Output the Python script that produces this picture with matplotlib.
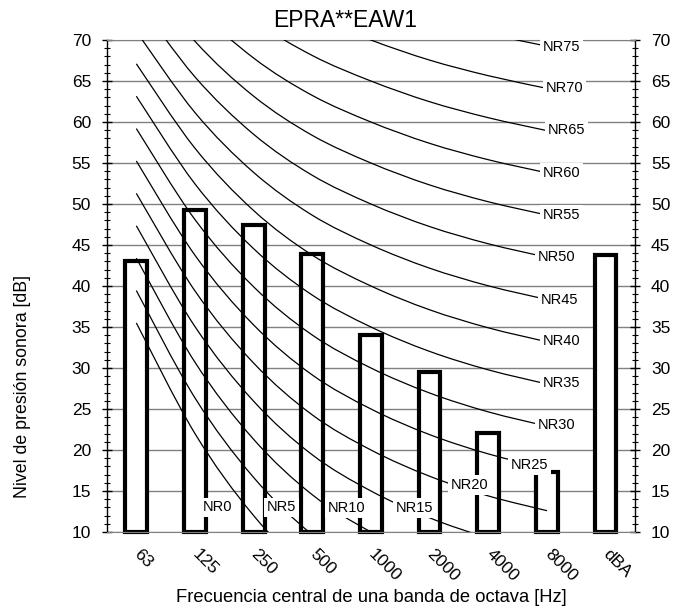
import numpy as np
import matplotlib
matplotlib.use("Agg")
import matplotlib.pyplot as plt
from matplotlib.path import Path
from matplotlib.patches import PathPatch

plt.rcParams['font.family'] = ['Liberation Sans', 'DejaVu Sans']

# octave bands + overall dBA
categories = ['63', '125', '250', '500', '1000', '2000', '4000', '8000', 'dBA']
levels = [43.0, 49.3, 47.4, 43.9, 34.0, 29.5, 22.1, 17.3, 43.8]

# NR curves, values at 63 ... 8000 Hz
nr_names = ['NR0', 'NR5', 'NR10', 'NR15', 'NR20', 'NR25', 'NR30', 'NR35',
            'NR40', 'NR45', 'NR50', 'NR55', 'NR60', 'NR65', 'NR70', 'NR75']
nr_values = [
    [35.5, 22.0, 12.0, 4.8, 0.0, -3.5, -6.1, -8.0],
    [39.45, 26.35, 16.65, 9.67, 5.0, 1.575, -0.975, -2.85],
    [43.4, 30.7, 21.3, 14.54, 10.0, 6.65, 4.15, 2.3],
    [47.35, 35.05, 25.95, 19.41, 15.0, 11.725, 9.275, 7.45],
    [51.3, 39.4, 30.6, 24.28, 20.0, 16.8, 14.4, 12.6],
    [55.25, 43.75, 35.25, 29.15, 25.0, 21.875, 19.525, 17.75],
    [59.2, 48.1, 39.9, 34.02, 30.0, 26.95, 24.65, 22.9],
    [63.15, 52.45, 44.55, 38.89, 35.0, 32.025, 29.775, 28.05],
    [67.1, 56.8, 49.2, 43.76, 40.0, 37.1, 34.9, 33.2],
    [71.05, 61.15, 53.85, 48.63, 45.0, 42.175, 40.025, 38.35],
    [75.0, 65.5, 58.5, 53.5, 50.0, 47.25, 45.15, 43.5],
    [78.95, 69.85, 63.15, 58.37, 55.0, 52.325, 50.275, 48.65],
    [82.9, 74.2, 67.8, 63.24, 60.0, 57.4, 55.4, 53.8],
    [86.85, 78.55, 72.45, 68.11, 65.0, 62.475, 60.525, 58.95],
    [90.8, 82.9, 77.1, 72.98, 70.0, 67.55, 65.65, 64.1],
    [94.75, 87.25, 81.75, 77.85, 75.0, 72.625, 70.775, 69.25],
]
# where each NR label sits (category index, dB)
label_x = [1.39, 2.48, 3.59, 4.75, 5.68, 6.71, 7.17, 7.25,
           7.25, 7.22, 7.17, 7.25, 7.25, 7.34, 7.30, 7.25]
label_y = [13.0, 13.0, 12.9, 12.9, 15.7, 18.2, 23.0, 28.2,
           33.3, 38.3, 43.5, 48.7, 53.8, 59.0, 64.1, 69.1]


def smooth_path(xs, ys):
    # bezier through the points, like a smoothed spreadsheet line
    n = len(xs)
    verts = [(xs[0], ys[0])]
    codes = [Path.MOVETO]
    for i in range(n - 1):
        a = max(i - 1, 0)
        b = min(i + 2, n - 1)
        c1 = (xs[i] + (xs[i + 1] - xs[a]) / 6, ys[i] + (ys[i + 1] - ys[a]) / 6)
        c2 = (xs[i + 1] - (xs[b] - xs[i]) / 6, ys[i + 1] - (ys[b] - ys[i]) / 6)
        verts += [c1, c2, (xs[i + 1], ys[i + 1])]
        codes += [Path.CURVE4] * 3
    return Path(verts, codes)


fig = plt.figure(figsize=(6.75, 6.11), dpi=100)
ax = fig.add_axes([0.1585, 0.1293, 0.7822, 0.8052])

x = np.arange(len(categories))
bars = ax.bar(x, np.array(levels) - 10, bottom=10, width=0.37, color='white',
              edgecolor='black', linewidth=3, zorder=2)
for b in bars:
    b.set_clip_on(False)

cx = np.arange(8)
for vals in nr_values:
    ax.add_patch(PathPatch(smooth_path(cx, vals), facecolor='none',
                           edgecolor='black', linewidth=0.9, zorder=3))

for name, lx, ly in zip(nr_names, label_x, label_y):
    ax.text(lx, ly, name, ha='center', va='center', fontsize=10.5, zorder=4,
            bbox=dict(facecolor='white', edgecolor='none', pad=2))

ax.set_xlim(-0.5, 8.5)
ax.set_ylim(10, 70)
ax.set_yticks(np.arange(10, 71, 5))
ax.set_yticks(np.arange(10, 71, 1), minor=True)
ax.set_xticks(x)
ax.set_xticklabels(categories, rotation=-45, ha='left', va='center',
                   rotation_mode='anchor', fontsize=12.5)
ax.tick_params(axis='x', length=0, pad=14)
ax.tick_params(axis='y', which='both', direction='inout', left=True, right=True,
               labelleft=True, labelright=True, labelsize=12.5, pad=8)
ax.tick_params(axis='y', which='major', length=7, width=1)
ax.tick_params(axis='y', which='minor', length=5, width=0.8)

ax.grid(axis='y', which='major', color='#808080', linewidth=1, zorder=0)
ax.set_axisbelow(True)
for s in ['top', 'bottom']:
    ax.spines[s].set_color('#808080')
for s in ['left', 'right']:
    ax.spines[s].set_linewidth(1)

fig.text(0.5504, 0.0229, 'Frecuencia central de una banda de octava [Hz]',
         ha='center', va='center', fontsize=13.2)
fig.text(0.034, 0.368, 'Nivel de presión sonora [dB]', rotation=90,
         ha='center', va='center', fontsize=12.8)
fig.text(0.511, 0.967, 'EPRA**EAW1', ha='center', va='center', fontsize=16.5)

fig.savefig('out.png', dpi=100)
